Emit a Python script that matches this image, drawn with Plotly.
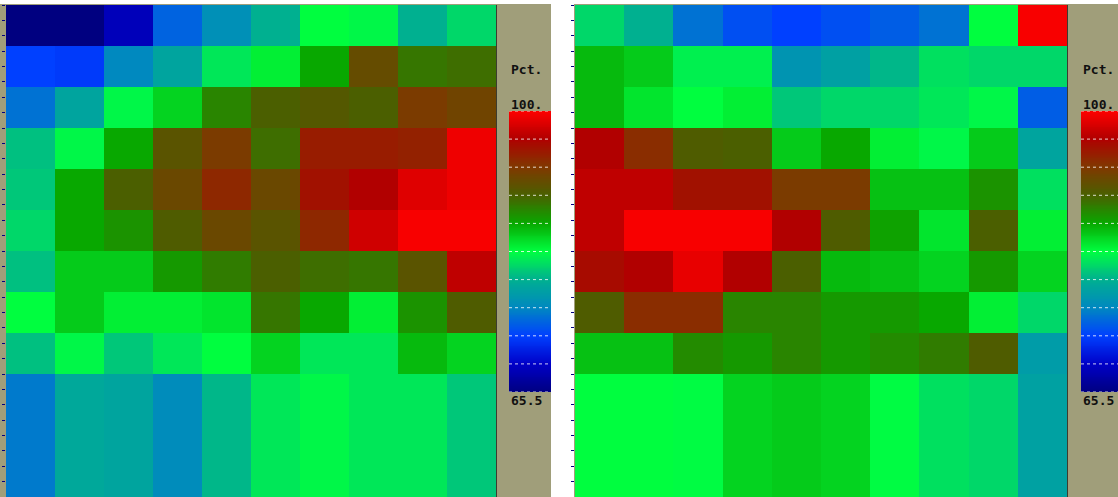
import numpy as np
import plotly.graph_objects as go

# ---- data (percent values, rows top -> bottom, columns left -> right) ----
zmin_val = 65.5
zmax_val = 100.0
bar_title = "Pct."
bar_top_label = "100."
bar_bottom_label = "65.5"

left_values = [
    [65.5, 65.5, 68.3, 74.1, 76.5, 79.3, 82.8, 82.4, 79.3, 81.0],
    [72.4, 72.1, 75.9, 78.3, 81.7, 83.4, 86.2, 91.4, 88.6, 89.0],
    [74.8, 78.3, 82.4, 84.5, 87.9, 89.7, 90.3, 89.7, 92.8, 92.1],
    [80.0, 82.4, 86.2, 90.7, 92.8, 89.0, 94.8, 94.8, 94.5, 99.3],
    [80.3, 86.2, 89.7, 91.7, 94.1, 91.7, 95.5, 96.6, 98.6, 99.3],
    [81.0, 86.2, 87.2, 90.0, 91.7, 90.7, 94.1, 97.9, 99.7, 99.7],
    [80.0, 84.8, 84.8, 86.9, 88.3, 89.7, 89.0, 88.6, 90.7, 97.2],
    [82.8, 84.8, 83.4, 83.4, 83.8, 88.6, 86.2, 83.4, 87.2, 90.0],
    [80.0, 82.4, 80.3, 81.7, 82.8, 84.5, 81.7, 81.7, 85.5, 84.5],
    [75.2, 78.6, 78.3, 76.2, 79.6, 81.7, 82.4, 81.7, 81.7, 80.3],
    [75.2, 78.6, 78.3, 76.2, 79.6, 81.7, 82.4, 81.7, 81.7, 80.3],
    [75.2, 78.6, 78.3, 76.2, 79.6, 81.7, 82.4, 81.7, 81.7, 80.3],
]

right_values = [
    [81.0, 79.3, 74.8, 73.1, 72.4, 73.1, 73.8, 74.8, 82.8, 99.7],
    [85.5, 84.8, 82.1, 82.1, 76.9, 77.9, 79.6, 81.4, 81.0, 81.0],
    [85.5, 83.8, 82.8, 83.4, 80.3, 81.0, 81.0, 81.7, 82.4, 73.8],
    [96.6, 93.8, 90.0, 89.7, 84.8, 86.2, 83.4, 82.4, 84.8, 78.3],
    [97.2, 97.2, 95.5, 95.5, 92.8, 92.8, 85.2, 85.2, 87.2, 81.4],
    [97.2, 99.7, 99.7, 99.7, 96.6, 90.0, 86.5, 83.8, 89.7, 83.4],
    [95.9, 96.6, 99.0, 96.6, 89.7, 85.5, 85.2, 84.5, 86.9, 84.5],
    [90.0, 93.8, 93.8, 87.9, 87.9, 86.9, 86.9, 86.2, 83.4, 81.0],
    [85.2, 85.2, 87.6, 86.9, 87.9, 86.9, 87.6, 88.3, 90.0, 77.6],
    [82.8, 82.8, 82.6, 84.5, 84.8, 84.5, 82.6, 81.4, 81.0, 78.0],
    [82.8, 82.8, 82.6, 84.5, 84.8, 84.5, 82.6, 81.4, 81.0, 78.0],
    [82.8, 82.8, 82.6, 84.5, 84.8, 84.5, 82.6, 81.4, 81.0, 78.0],
]

colorscale = [
    [0.0, "#000080"],
    [0.1, "#0000c8"],
    [0.2, "#0040ff"],
    [0.3, "#0088c0"],
    [0.4, "#00b090"],
    [0.5, "#00ff40"],
    [0.6, "#08a800"],
    [0.7, "#4a6000"],
    [0.8, "#803800"],
    [0.9, "#b00000"],
    [1.0, "#ff0000"],
]

W, H = 1118, 497
KHAKI = "#a09e7a"


def px_x(p):
    return p / W


def px_y(p):  # pixel from top -> paper fraction from bottom
    return 1 - p / H


n_rows = len(left_values)
n_cols = len(left_values[0])

fig = go.Figure()

panels = [
    dict(vals=left_values, hx=(6, 496), bx=(509, 551), kx=(0, 551), lx=509),
    dict(vals=right_values, hx=(575, 1067), bx=(1081, 1118), kx=(574, 1118), lx=1081),
]

shapes = []
annotations = []
grad = np.linspace(zmin_val, zmax_val, 300)

for i, p in enumerate(panels):
    hx_axis = "x" if i == 0 else f"x{2*i+1}"
    hy_axis = "y" if i == 0 else f"y{2*i+1}"
    bx_axis = f"x{2*i+2}"
    by_axis = f"y{2*i+2}"

    fig.add_trace(go.Heatmap(
        z=p["vals"], x=list(range(n_cols)), y=list(range(n_rows)),
        colorscale=colorscale, zmin=zmin_val, zmax=zmax_val,
        showscale=False, xaxis=hx_axis, yaxis=hy_axis, hoverinfo="z",
    ))
    fig.add_trace(go.Heatmap(
        z=[[v] for v in grad], x=[0], y=list(grad),
        colorscale=colorscale, zmin=zmin_val, zmax=zmax_val,
        showscale=False, xaxis=bx_axis, yaxis=by_axis, hoverinfo="skip",
    ))

    hk = hx_axis.replace("x", "xaxis")
    hyk = hy_axis.replace("y", "yaxis")
    bk = bx_axis.replace("x", "xaxis")
    byk = by_axis.replace("y", "yaxis")

    fig.update_layout(**{
        hk: dict(domain=[px_x(p["hx"][0]), px_x(p["hx"][1])], range=[-0.5, n_cols - 0.5],
                 showgrid=False, zeroline=False, showticklabels=False, ticks="",
                 anchor=hy_axis),
        hyk: dict(domain=[0, px_y(5)], range=[n_rows - 0.5, -0.5],
                  showgrid=False, zeroline=False, showticklabels=False,
                  ticks="outside", ticklen=3, tickwidth=1, tickcolor="#000080",
                  tick0=-0.5, dtick=0.375, anchor=hx_axis),
        bk: dict(domain=[px_x(p["bx"][0]), px_x(p["bx"][1])], range=[-0.5, 0.5],
                 showgrid=False, zeroline=False, showticklabels=False, ticks="",
                 anchor=by_axis),
        byk: dict(domain=[px_y(392), px_y(111)], range=[zmin_val, zmax_val],
                  showgrid=False, zeroline=False, showticklabels=False, ticks="",
                  anchor=bx_axis),
    })

    shapes.append(dict(type="rect", xref="paper", yref="paper", layer="below",
                       x0=px_x(p["kx"][0]), x1=px_x(p["kx"][1]), y0=0, y1=px_y(4),
                       fillcolor=KHAKI, line=dict(width=0)))
    shapes.append(dict(type="line", xref="paper", yref="paper",
                       x0=px_x(p["hx"][1] + 0.5), x1=px_x(p["hx"][1] + 0.5),
                       y0=0, y1=px_y(5), line=dict(color="#3c3c30", width=1)))
    for k in range(11):
        v = zmin_val + k * (zmax_val - zmin_val) / 10
        shapes.append(dict(type="line", xref=f"{bx_axis} domain", yref=by_axis,
                           x0=0, x1=1, y0=v, y1=v,
                           line=dict(color="rgba(255,255,255,0.8)", width=1, dash="dot")))

    font = dict(family="DejaVu Sans Mono", size=13, color="#101010")
    for txt, ypx in [(bar_title, 69), (bar_top_label, 105), (bar_bottom_label, 400)]:
        annotations.append(dict(text=f"<b>{txt}</b>", xref="paper", yref="paper",
                                x=px_x(p["lx"]), y=px_y(ypx), xanchor="left", yanchor="middle",
                                showarrow=False, font=font))

fig.update_layout(
    width=W, height=H, margin=dict(l=0, r=0, t=0, b=0),
    paper_bgcolor="white", plot_bgcolor="rgba(0,0,0,0)",
    shapes=shapes, annotations=annotations, showlegend=False,
)

fig.write_html(
    "out.html",
    config={"displayModeBar": False},
    post_script="document.body.style.margin='0';document.body.style.overflow='hidden';",
)
